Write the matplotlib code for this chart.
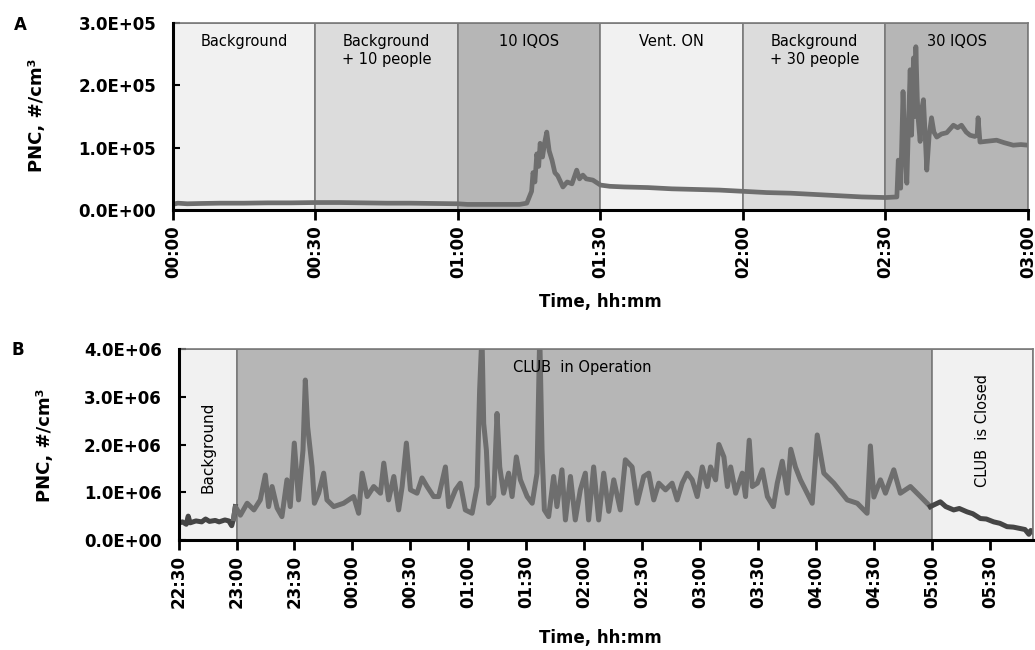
import matplotlib
matplotlib.use("Agg")
import matplotlib.pyplot as plt
from matplotlib.patches import Rectangle
from matplotlib.ticker import FuncFormatter
import numpy as np

# ---- panel A: chamber test, minutes from 00:00, PNC in thousands #/cm3
a_time = [0, 1, 3, 6, 10, 15, 20, 25, 30, 35, 40, 45, 50, 55, 60, 62, 66, 70, 73,
          74.5, 75.5, 75.8, 76.2, 76.6, 77, 77.3, 77.8, 78.3, 78.7, 79.2, 79.8, 80.4,
          81, 82.1, 83, 84, 85, 85.6, 86.3, 87, 88.4, 89.2, 90, 92, 95, 100, 105, 110,
          115, 120, 125, 130, 135, 140, 145, 150, 152.4,
          152.7, 153.2, 153.7, 154.1, 154.5, 154.9, 155.2, 155.5, 155.9, 156.2, 156.4,
          156.7, 156.9, 157.3, 157.6, 158.0, 158.3, 158.7, 159.2, 159.7, 160.2, 160.8,
          161.8, 162.9, 163.6, 164.3, 165.2, 166, 167, 167.8, 168.8, 169.3, 169.5,
          169.9, 171, 173.4, 175, 176.9, 178.5, 180]
a_pnc = [9, 11, 10, 10.5, 11, 11, 11.5, 11.5, 12, 12, 11.5, 11, 11, 10.5, 10, 9, 9, 9, 9,
         11, 30, 60, 45, 90, 70, 107, 85, 110, 125, 95, 80, 60,
         55, 37, 45, 42, 64, 50, 56, 50, 48, 44, 40, 38, 37, 36, 34, 33,
         32, 30, 28, 27, 25, 23, 21, 20, 21,
         80, 35, 190, 100, 43, 150, 225, 120, 244, 150, 262,
         180, 145, 110, 160, 177, 130, 64, 120, 148, 125, 117,
         122, 124, 130, 136, 132, 136, 125, 120, 118, 120, 148,
         109, 110, 112, 108, 104, 105, 104]

a_phases = ["Background", "Background\n+ 10 people", "10 IQOS", "Vent. ON",
            "Background\n+ 30 people", "30 IQOS"]
a_phase_edges = [0, 30, 60, 90, 120, 150, 180]
a_phase_colors = ["#f1f1f1", "#dcdcdc", "#b6b6b6", "#f1f1f1", "#dcdcdc", "#b6b6b6"]
a_ticks = [0, 30, 60, 90, 120, 150, 180]
a_ticklabels = ["00:00", "00:30", "01:00", "01:30", "02:00", "02:30", "03:00"]

# ---- panel B: night club, minutes from 22:30, PNC in millions #/cm3
b_time = [0, 2, 4, 5, 6, 9, 12, 14, 16, 19, 21, 24, 26, 27.5, 28.5, 29.4, 32, 35.5, 39,
          42.3, 44.9, 46.6, 48.4, 51, 53.5, 56.1, 57.8, 59.9, 62.1, 64.4, 65.6, 66.8,
          69.1, 70.3, 72.5, 75.1, 76.8, 80.3, 85.4, 90.6, 93.2, 95, 97.6, 101, 104.5,
          106.2, 108.7, 111.4, 113.9, 115.7, 117.9, 120, 123.4, 126, 128.6, 132, 134.6,
          138.1, 139.8, 143.3, 145.8, 148.4, 151.9, 154.5, 155.8, 157, 157.9, 159.3,
          160.5, 163.1, 164.8, 166.2, 168.2, 170.8, 172.6, 174.8, 176.9, 180.4, 183,
          185.5, 186.9, 188.1, 189.3, 191.5, 194.1, 195.8, 198.4, 200.2, 202.8, 205.3,
          207.9, 210.5, 212.2, 214.8, 217.4, 220, 222.6, 225.2, 228.6, 231.2, 234.7,
          237.3, 240.7, 243.3, 245.9, 248.5, 252, 255.4, 258, 260.6, 263.2, 265.8,
          268.4, 271, 273.6, 275.3, 277.9, 279.6, 282.2, 284, 285.7, 288.3, 291.7,
          293.4, 295.3, 296.9, 299.5, 302.1, 304.7, 307.8, 309.8, 312.4, 315, 316.8,
          319.2, 321.8, 325.3, 327.9, 330.5, 333.9, 339.1, 346, 351.2, 356.3, 358,
          359.8, 363.2, 365.8, 370.1, 373.5, 378.7, 383.9, 389, 394.2, 397, 401.1, 404,
          408, 411, 414.9, 418, 421.8, 425, 428.7, 432, 435.6, 438, 440, 441, 442]
b_pnc = [0.35, 0.38, 0.33, 0.50, 0.36, 0.40, 0.38, 0.44, 0.39, 0.41, 0.38, 0.42, 0.40,
         0.30, 0.45, 0.70, 0.52, 0.77, 0.63, 0.84, 1.36, 0.70, 1.12, 0.67, 0.49, 1.26,
         0.70, 2.03, 0.84, 1.88, 3.35, 2.37, 1.53, 0.77, 0.98, 1.40, 0.84, 0.70, 0.77,
         0.91, 0.56, 1.40, 0.91, 1.12, 0.98, 1.61, 0.84, 1.33, 0.63, 1.12, 2.03, 1.05,
         0.98, 1.30, 1.12, 0.91, 0.91, 1.53, 0.70, 1.05, 1.19, 0.63, 0.56, 1.12, 3.14,
         4.30, 2.44, 1.88, 0.77, 0.91, 2.65, 1.53, 0.98, 1.40, 0.91, 1.74, 1.26, 0.91,
         0.77, 1.40, 4.30, 1.88, 0.63, 0.49, 1.33, 0.70, 1.47, 0.42, 1.33, 0.42, 1.05,
         1.40, 0.42, 1.53, 0.42, 1.40, 0.60, 1.26, 0.63, 1.68, 1.53, 0.77, 1.33, 1.40,
         0.84, 1.19, 1.05, 1.19, 0.84, 1.19, 1.40, 1.26, 0.91, 1.53, 1.12, 1.53, 1.26,
         2.00, 1.74, 1.12, 1.53, 0.98, 1.40, 0.91, 2.09, 1.12, 1.19, 1.47, 0.91, 0.70,
         1.19, 1.65, 0.98, 1.90, 1.53, 1.26, 0.98, 0.77, 2.20, 1.40, 1.19, 0.84, 0.77,
         0.56, 1.97, 0.90, 1.26, 0.98, 1.47, 0.98, 1.12, 0.91, 0.70, 0.80, 0.70, 0.63,
         0.66, 0.59, 0.55, 0.45, 0.44, 0.38, 0.35, 0.28, 0.27, 0.24, 0.22, 0.12, 0.20,
         0.17]

b_phase_edges = [0, 30, 390, 442]
b_phase_colors = ["#f1f1f1", "#b6b6b6", "#f1f1f1"]
b_ticks = list(range(0, 421, 30))
b_ticklabels = ["22:30", "23:00", "23:30", "00:00", "00:30", "01:00", "01:30", "02:00",
                "02:30", "03:00", "03:30", "04:00", "04:30", "05:00", "05:30"]

LINE_GREY = "#6e6e6e"
LINE_DARK = "#454545"
EDGE_GREY = "#7a7a7a"


def sci_fmt(v, pos):
    return f"{v:.1E}"


def style_axis(ax, ticks, ticklabels, ymax, ystep):
    ax.set_ylim(0, ymax)
    ax.set_yticks(np.arange(0, ymax + ystep / 2, ystep))
    ax.yaxis.set_major_formatter(FuncFormatter(sci_fmt))
    ax.set_xticks(ticks)
    ax.set_xticklabels(ticklabels, rotation=90)
    ax.tick_params(axis="y", direction="in", length=5, width=1.5, pad=12,
                   labelsize=12)
    ax.tick_params(axis="x", direction="out", length=7, width=2, pad=4,
                   labelsize=12)
    for lab in ax.get_xticklabels() + ax.get_yticklabels():
        lab.set_fontweight("bold")
    for side in ["left", "bottom"]:
        ax.spines[side].set_linewidth(2.2)
        ax.spines[side].set_color("black")
        ax.spines[side].set_zorder(5)
    for side in ["top", "right"]:
        ax.spines[side].set_color(EDGE_GREY)
        ax.spines[side].set_linewidth(1.2)


def draw_phases(ax, edges, colors, ymax):
    for i, c in enumerate(colors):
        ax.add_patch(Rectangle((edges[i], 0), edges[i + 1] - edges[i], ymax,
                               facecolor=c, edgecolor=EDGE_GREY, linewidth=1.2,
                               zorder=0))


fig = plt.figure(figsize=(10.35, 6.5), dpi=100)

# panel A
axA = fig.add_axes([0.1671, 0.6769, 0.8261, 0.2877])
draw_phases(axA, a_phase_edges, a_phase_colors, 3e5)
axA.plot(a_time, np.array(a_pnc) * 1e3, color=LINE_GREY, linewidth=3.4, zorder=2,
         solid_joinstyle="round")
for i, name in enumerate(a_phases):
    mid = (a_phase_edges[i] + a_phase_edges[i + 1]) / 2
    axA.text(mid, 2.83e5, name, ha="center", va="top", fontsize=10.5,
             linespacing=1.25, zorder=3)
axA.set_xlim(0, 180)
style_axis(axA, a_ticks, a_ticklabels, 3e5, 1e5)

# panel B
axB = fig.add_axes([0.1725, 0.1692, 0.8253, 0.2939])
draw_phases(axB, b_phase_edges, b_phase_colors, 4e6)
bt = np.array(b_time)
bv = np.array(b_pnc) * 1e6
club = (bt >= 28.5) & (bt <= 390)
axB.plot(bt[bt <= 29.4], bv[bt <= 29.4], color=LINE_DARK, linewidth=3.6, zorder=2,
         solid_joinstyle="round")
axB.plot(bt[club], bv[club], color=LINE_GREY, linewidth=3.6, zorder=2,
         solid_joinstyle="round")
axB.plot(bt[bt >= 389], bv[bt >= 389], color=LINE_DARK, linewidth=3.6, zorder=2,
         solid_joinstyle="round")
axB.text(15, 1.95e6, "Background", rotation=90, ha="center", va="center",
         fontsize=11, zorder=3)
axB.text(209, 3.62e6, "CLUB  in Operation", ha="center", va="center",
         fontsize=10.5, zorder=3)
axB.text(416, 2.3e6, "CLUB  is Closed", rotation=90, ha="center", va="center",
         fontsize=10.5, zorder=3)
axB.set_xlim(0, 442)
style_axis(axB, b_ticks, b_ticklabels, 4e6, 1e6)

# labels
fig.text(0.036, 0.823, "PNC, #/cm³", rotation=90, ha="center", va="center",
         fontsize=13, fontweight="bold")
fig.text(0.043, 0.315, "PNC, #/cm³", rotation=90, ha="center", va="center",
         fontsize=13, fontweight="bold")
fig.text(0.58, 1 - 302 / 650, "Time, hh:mm", ha="center", va="center",
         fontsize=12, fontweight="bold")
fig.text(0.58, 1 - 638 / 650, "Time, hh:mm", ha="center", va="center",
         fontsize=12, fontweight="bold")
fig.text(20 / 1035, 1 - 25 / 650, "A", ha="center", va="center", fontsize=12,
         fontweight="bold")
fig.text(18 / 1035, 1 - 350 / 650, "B", ha="center", va="center", fontsize=12,
         fontweight="bold")

fig.savefig("out.png", dpi=100)
